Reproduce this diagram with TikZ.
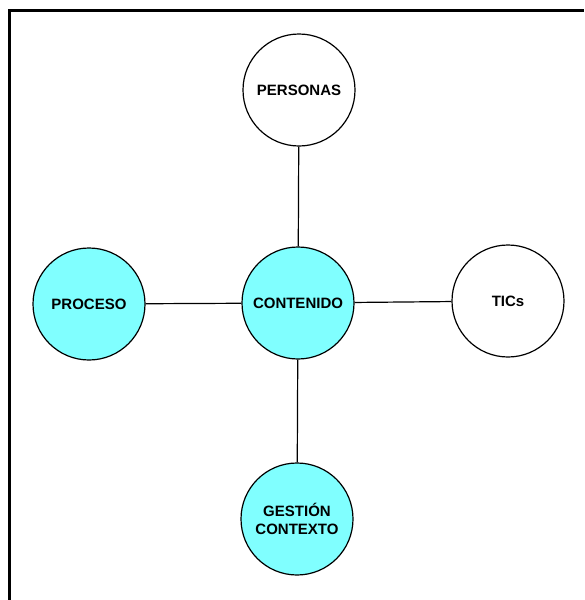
\documentclass[tikz,border=0pt]{standalone}
\usepackage{fontspec}
\setmainfont{Liberation Sans}
\usetikzlibrary{positioning}
\definecolor{aqua}{RGB}{128,255,255}

\begin{document}
\begin{tikzpicture}[x=1pt, y=-1pt,
        topic/.style={circle, draw, line width=1.2pt, minimum size=112pt, inner sep=0pt, align=center, font=\fontsize{15}{18}\selectfont\bfseries},
        core/.style={topic, fill=aqua}]
        \useasboundingbox (0,0) rectangle (584,600);
        \draw[line width=3.5pt] (9.5,600) -- (9.5,10.5) -- (584,10.5);
        \node[core] (contenido) at (298,303) {CONTENIDO};
        \node[topic] (personas) at (299,90) {PERSONAS};
        \node[topic] (tics) at (508,301) {TICs};
        \node[core] (proceso) at (89,304) {PROCESO};
        \node[core] (gestion) at (297,519) {GESTIÓN\\CONTEXTO};
        \draw[line width=1.2pt] (personas) -- (contenido);
        \draw[line width=1.2pt] (proceso) -- (contenido);
        \draw[line width=1.2pt] (contenido) -- (tics);
        \draw[line width=1.2pt] (contenido) -- (gestion);
  \end{tikzpicture}
\end{document}
